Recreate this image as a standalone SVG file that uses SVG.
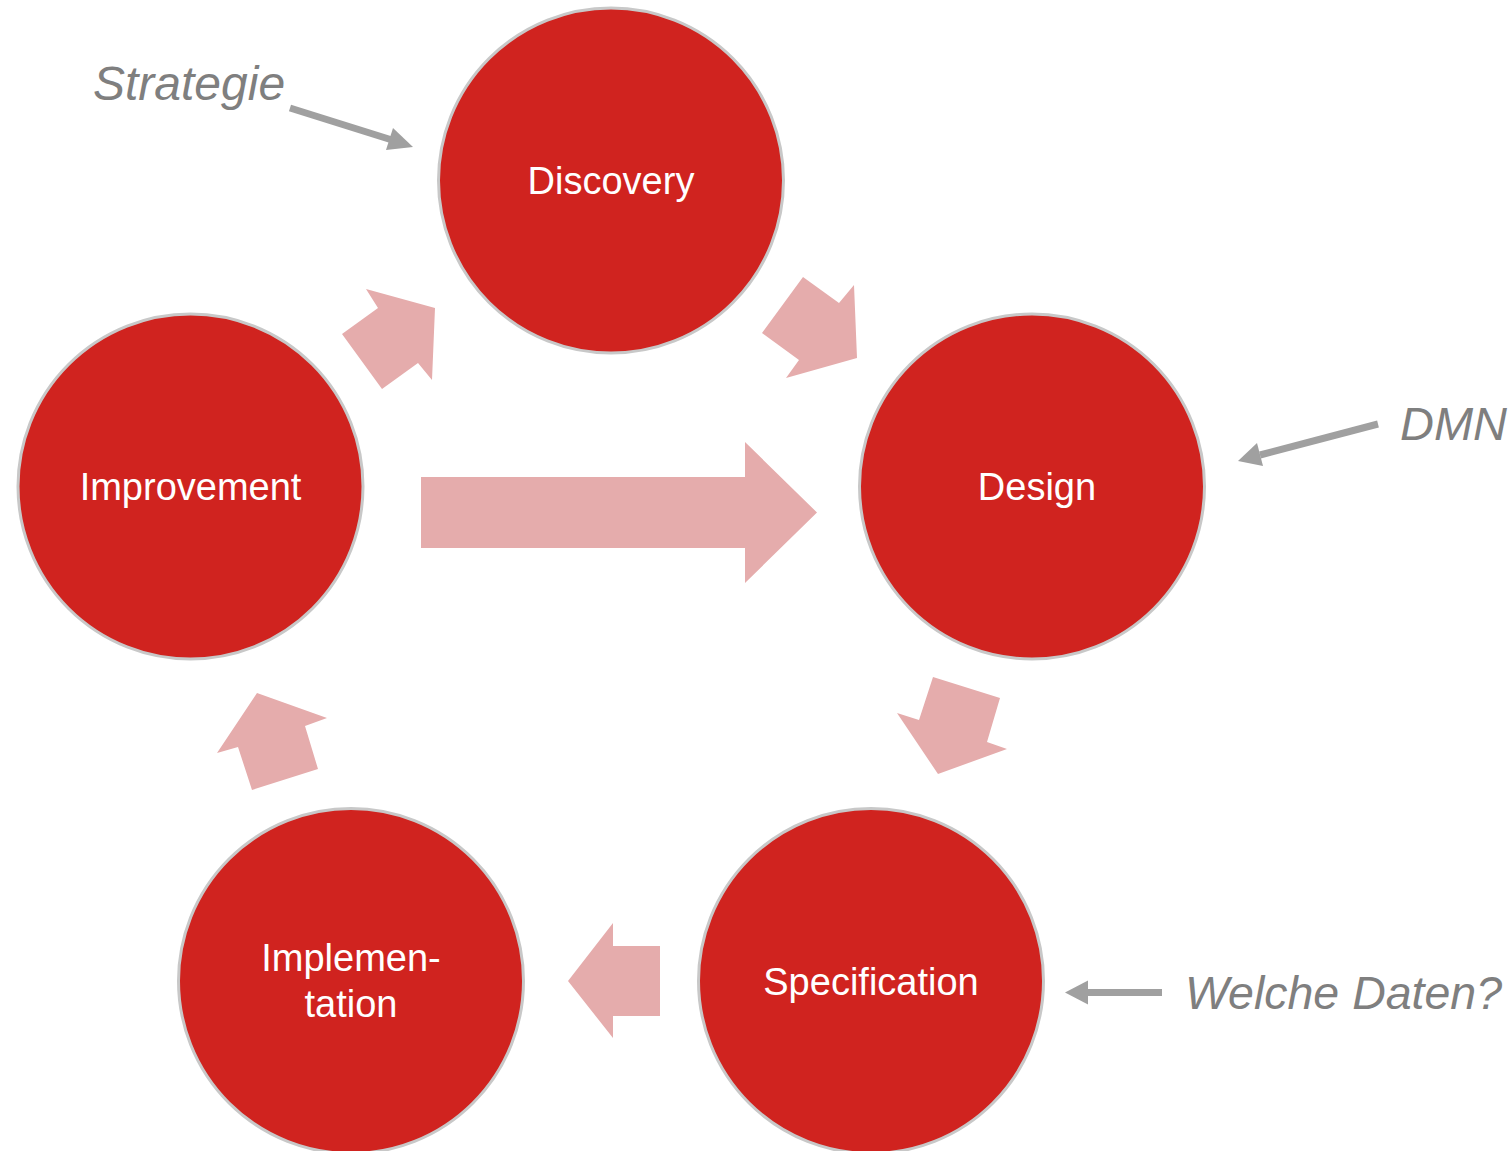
<svg xmlns="http://www.w3.org/2000/svg" width="1511" height="1151" viewBox="0 0 1511 1151">
<style>
.node{fill:#D0231F;stroke:#C8C8C8;stroke-width:3}
.lbl{font-family:"Liberation Sans",Arial,sans-serif;font-size:38px;fill:#FFFFFF;text-anchor:middle}
.flow{fill:#E5ACAC;stroke:none}
.note{font-family:"Liberation Sans",Arial,sans-serif;font-style:italic;font-size:46px;fill:#7F7F7F}
.pt{stroke:#A0A0A0;stroke-width:7;fill:none}
.ph{fill:#A0A0A0;stroke:none}
</style>
<rect width="1511" height="1151" fill="#FFFFFF"/>
<g id="connectors">
<polygon class="flow" points="342,334 378,308 366,289 435,308 432,380 418,363 382,389"/>
<polygon class="flow" points="762,333 803,277 839,303 854,285 857,358 786,378 799,360"/>
<polygon class="flow" points="933,677 1000,698 987,742 1007,749 938,774 897,713 919,720"/>
<polygon class="flow" points="568,981 613,923 613,946 660,946 660,1016 613,1016 613,1038"/>
<polygon class="flow" points="257,693 327,718 305,726 318,769 252,790 238,747 217,753"/>
<polygon class="flow" points="421,477 745,477 745,442 817,512.5 745,583 745,548 421,548"/>
<g id="note-arrows">
<line class="pt" x1="290" y1="108" x2="392" y2="140"/>
<polygon class="ph" points="413,147 386,150 393,128"/>
<line class="pt" x1="1378" y1="424" x2="1260" y2="455"/>
<polygon class="ph" points="1238,461 1257,443 1263,466"/>
<line class="pt" x1="1162" y1="992.5" x2="1085" y2="992.5"/>
<polygon class="ph" points="1065,992.5 1088,980.5 1088,1004.5"/>
</g>
</g>
<g id="discovery"><circle class="node" cx="611" cy="180.5" r="172.5"/><text class="lbl" x="611" y="194">Discovery</text></g>
<g id="design"><circle class="node" cx="1032" cy="486.5" r="172.5"/><text class="lbl" x="1037" y="500">Design</text></g>
<g id="specification"><circle class="node" cx="871" cy="981" r="172.5"/><text class="lbl" x="871" y="995">Specification</text></g>
<g id="implementation"><circle class="node" cx="351" cy="981" r="172.5"/><text class="lbl" x="351" y="971">Implemen-</text><text class="lbl" x="351" y="1017">tation</text></g>
<g id="improvement"><circle class="node" cx="190.5" cy="486.5" r="172.5"/><text class="lbl" x="190.5" y="500">Improvement</text></g>
<g id="notes">
<text class="note" x="93" y="100" style="font-size:48px">Strategie</text>
<text class="note" x="1400" y="440" style="font-size:47px">DMN</text>
<text class="note" x="1185" y="1009" style="font-size:46.5px">Welche Daten?</text>
</g>
</svg>
